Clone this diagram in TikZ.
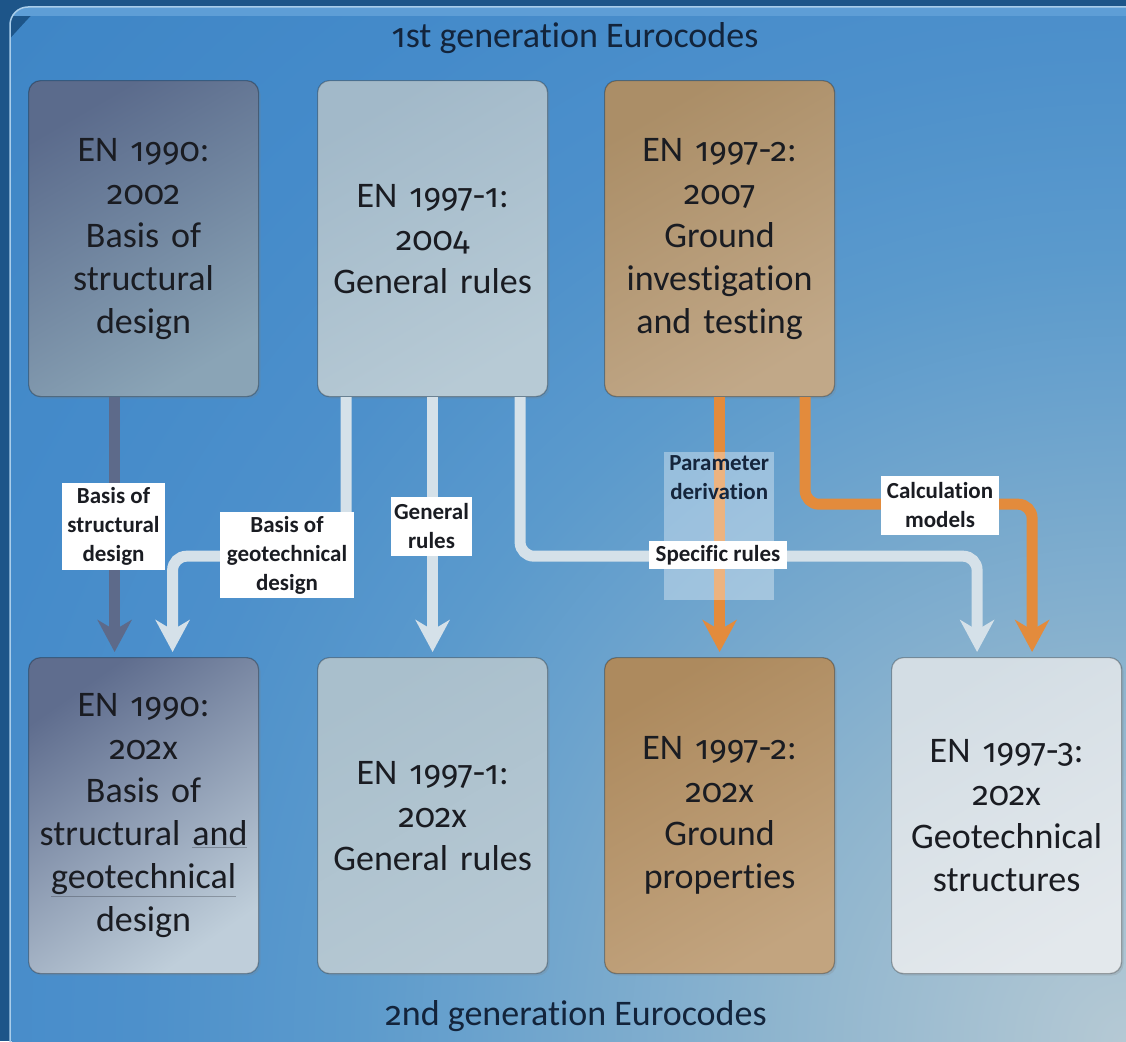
\documentclass[tikz,border=0pt]{standalone}
\usepackage{fontspec}
\setmainfont{Carlito}[Ligatures=NoCommon]
\newfontfamily\osf{Fira Sans}[Numbers=OldStyle, Scale=0.93]
\usetikzlibrary{arrows.meta,shadows}

\definecolor{frameblue}{HTML}{1D5589}
\definecolor{glowA}{HTML}{B5C9D4}
\definecolor{glowB}{HTML}{8DB4CE}
\definecolor{glowC}{HTML}{6CA3CD}
\definecolor{glowD}{HTML}{5B9ACC}
\definecolor{glowE}{HTML}{4D90CB}
\definecolor{glowF}{HTML}{458BCA}
\definecolor{panelA}{HTML}{3F86C6}
\definecolor{stripc}{HTML}{5E9ED6}
\definecolor{edgec}{HTML}{A9CDEA}
\definecolor{boxtext}{HTML}{1A1C22}
\definecolor{titletext}{HTML}{13243B}
\definecolor{darkflow}{HTML}{5D6A8A}
\definecolor{lightflow}{HTML}{D5E1E9}
\definecolor{orangeflow}{HTML}{E38B3C}
\definecolor{navytext}{HTML}{15253C}

\pgfdeclareradialshading{panelglow}{\pgfpoint{0bp}{0bp}}{color(0bp)=(glowA); color(6bp)=(glowB); color(10.5bp)=(glowC); color(13bp)=(glowD); color(16.5bp)=(glowE); color(20bp)=(glowF); color(25bp)=(panelA); color(50bp)=(panelA)}

\tikzset{
  ecbox/.style={rounded corners=12pt, minimum width=230pt, minimum height=316pt,
    anchor=north west, align=center, text width=226pt, inner sep=2pt,
    font=\fontsize{36}{43}\selectfont, text=boxtext,
    draw=black, draw opacity=0.28, line width=1.2pt,
    drop shadow={shadow xshift=2pt, shadow yshift=-2pt, opacity=0.22}},
  flow/.style={line width=11pt, rounded corners=14pt,
    -{Stealth[length=32pt, width=34pt, inset=10pt]}, shorten >=5pt},
  lbl/.style={fill=white, text=boxtext, align=center, inner sep=0pt,
    font=\bfseries\fontsize{23}{29}\selectfont},
  gentitle/.style={font=\fontsize{36}{43}\selectfont, text=titletext}
}

\begin{document}
\begin{tikzpicture}[x=1pt, y=-1pt]
\useasboundingbox (0,0) rectangle (1126,1041);
\clip (0,0) rectangle (1126,1041);

% frame and panel
\fill[frameblue] (0,0) rectangle (1126,1041);
\begin{scope}
  \clip[rounded corners=18pt] (10,7) rectangle (1160,1052);
  \shade[shading=panelglow] (1126,1041) circle[radius=1500];
  \fill[stripc] (10,7) rectangle (1160,16);
\end{scope}
\draw[edgec, line width=1.5pt, rounded corners=18pt] (10,1052) -- (10,7) -- (1160,7);

% titles
\node[gentitle] (t1) at (575,38) {{\osf 1}st generation Eurocodes};
\node[gentitle] (t2) at (576,1016) {{\osf 2}nd generation Eurocodes};

% first generation boxes
\node[ecbox, top color={rgb,255:red,91;green,107;blue,140}, bottom color={rgb,255:red,138;green,164;blue,182}, shading angle=30] (A) at (28,80)
  {EN {\osf 1990}:\\{\osf 2002}\\Basis of\\structural\\design};
\node[ecbox, top color={rgb,255:red,162;green,185;blue,201}, bottom color={rgb,255:red,183;green,202;blue,213}, shading angle=30] (B) at (317,80)
  {EN {\osf 1997-1}:\\{\osf 2004}\\General rules};
\node[ecbox, top color={rgb,255:red,171;green,142;blue,103}, bottom color={rgb,255:red,193;green,168;blue,136}, shading angle=30] (C) at (604,80)
  {EN {\osf 1997-2}:\\{\osf 2007}\\Ground\\investigation\\and testing};

% second generation boxes
\node[ecbox, top color={rgb,255:red,95;green,109;blue,142}, bottom color={rgb,255:red,191;green,206;blue,218}, shading angle=35] (D) at (28,657)
  {EN {\osf 1990}:\\{\osf 202}x\\Basis of\\structural \underline{and}\\\underline{geotechnical}\\design};
\node[ecbox, top color={rgb,255:red,169;green,191;blue,204}, bottom color={rgb,255:red,182;green,200;blue,211}, shading angle=30] (E) at (317,657)
  {EN {\osf 1997-1}:\\{\osf 202}x\\General rules};
\node[ecbox, top color={rgb,255:red,173;green,138;blue,94}, bottom color={rgb,255:red,194;green,164;blue,127}, shading angle=30] (F) at (604,657)
  {EN {\osf 1997-2}:\\{\osf 202}x\\Ground\\properties};
\node[ecbox, top color={rgb,255:red,211;green,221;blue,228}, bottom color={rgb,255:red,227;green,232;blue,236}, shading angle=30] (G) at (891,657)
  {EN {\osf 1997-3}:\\{\osf 202}x\\Geotechnical\\structures};

% connectors
\draw[flow, darkflow] ([xshift=-29pt]A.south) -- ([xshift=-29pt]D.north);
\draw[flow, lightflow] ([xshift=-86.5pt]B.south) -- ++(0,159) -| ([xshift=29pt]D.north);
\draw[flow, lightflow] (B.south) -- (E.north);
\draw[flow, lightflow] ([xshift=87.5pt]B.south) -- ++(0,159) -| ([xshift=-29.5pt]G.north);
\draw[flow, orangeflow] (C.south) -- (F.north);
\draw[flow, orangeflow] ([xshift=85.5pt]C.south) -- ++(0,107) -| ([xshift=25.5pt]G.north);

% translucent parameter panel
\node[fill=white, fill opacity=0.35, minimum width=110pt, minimum height=148pt, inner sep=0pt, anchor=north west] (pd) at (664,452) {};
\node[font=\bfseries\fontsize{23}{29}\selectfont, text=navytext, align=center, anchor=north, inner sep=3pt] (pdt) at (pd.north) {Parameter\\derivation};

% labels
\node[lbl, minimum width=103pt, minimum height=87pt] (la) at (113.5,526.5) {Basis of\\structural\\design};
\node[lbl, minimum width=134pt, minimum height=86pt] (lb) at (287,555) {Basis of\\geotechnical\\design};
\node[lbl, minimum width=81pt, minimum height=59pt] (lc) at (431.5,526.5) {General\\rules};
\node[lbl, minimum width=138pt, minimum height=28pt] (ld) at (718,555) {Specific rules};
\node[lbl, minimum width=118pt, minimum height=59pt] (le) at (940,505.5) {Calculation\\models};
\end{tikzpicture}
\end{document}
